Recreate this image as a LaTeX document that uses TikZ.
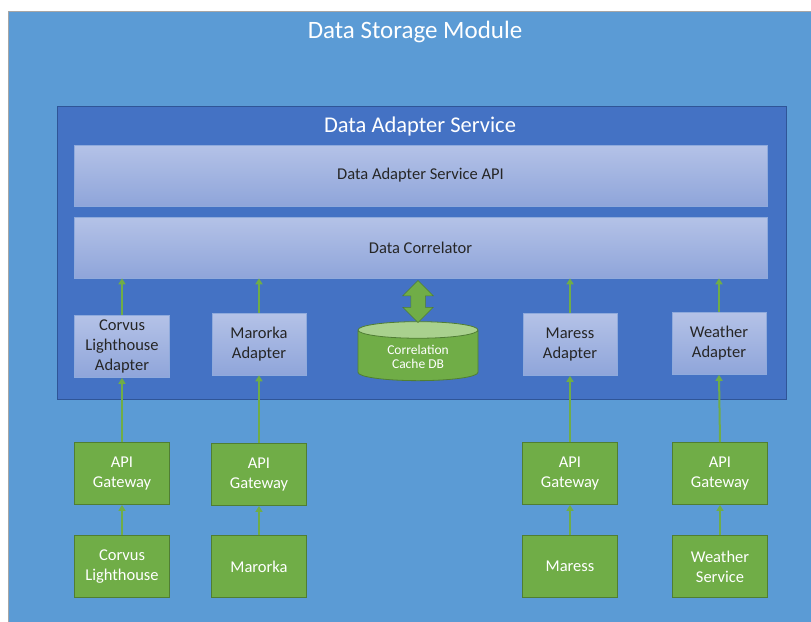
\documentclass[tikz,border=0pt]{standalone}
\usepackage{fontspec}
\setmainfont{Carlito}
\usetikzlibrary{shapes.geometric,shapes.arrows,arrows.meta}
\definecolor{outerblue}{HTML}{5B9BD5}
\definecolor{innerblue}{HTML}{4472C4}
\definecolor{innerline}{HTML}{2F5597}
\definecolor{bartop}{HTML}{B4C2E7}
\definecolor{barbot}{HTML}{8FA5DA}
\definecolor{barline}{HTML}{8FAADC}
\definecolor{grn}{HTML}{70AD47}
\definecolor{grnline}{HTML}{507E32}
\definecolor{grnlight}{HTML}{A9D18E}
\definecolor{darktext}{HTML}{262626}
\tikzset{
  x=1pt, y=-1pt,
  lavbox/.style={rectangle, top color=bartop, bottom color=barbot, draw=barline, line width=0.6pt,
    text=darktext, align=center, inner sep=0pt},
  bar/.style={lavbox, minimum width=693, minimum height=61, font=\fontsize{16.5}{20}\selectfont},
  adapter/.style={lavbox, minimum width=94, minimum height=62, font=\fontsize{16.5}{20}\selectfont},
  greenbox/.style={rectangle, fill=grn, draw=grnline, line width=0.8pt, text=white, align=center,
    inner sep=0pt, minimum width=95, minimum height=62, font=\fontsize{16.5}{20}\selectfont},
  flow/.style={draw=grn, line width=2pt, -{Triangle[width=7pt,length=6pt]}},
}
\begin{document}
\begin{tikzpicture}
\useasboundingbox (0,0) rectangle (811,621);
\begin{scope}
\clip (0,0) rectangle (811,621);
\path[fill=outerblue, draw=gray!70, line width=0.8pt] (8,11) rectangle (830,640);
\end{scope}
\node[text=white, font=\fontsize{25}{30}\selectfont] (title) at (415,32) {Data Storage Module};

\path[fill=innerblue, draw=innerline, line width=0.8pt] (57,106) rectangle (786,399);
\node[text=white, font=\fontsize{22.5}{27}\selectfont] (ititle) at (420,127) {Data Adapter Service};

\node[bar] (api) at (420.5,175.5) {Data Adapter Service API};
\node[bar] (corr) at (420.5,247.5) {Data Correlator};

\node[adapter, minimum width=95] (ad1) at (122,346.5) {Corvus\\Lighthouse\\Adapter};
\node[adapter] (ad2) at (259,344) {Marorka\\Adapter};
\node[adapter] (ad3) at (570,344.5) {Maress\\Adapter};
\node[adapter] (ad4) at (719,343.5) {Weather\\Adapter};

\node[cylinder, shape border rotate=90, aspect=0.27, minimum width=120, minimum height=59,
  cylinder uses custom fill, cylinder body fill=grn, cylinder end fill=grnlight,
  draw=grnline, line width=0.8pt, text=white, align=center, inner sep=0pt,
  font=\fontsize{13.5}{14}\selectfont] (db) at (418,355.5) {\\[-2pt]Correlation\\Cache DB};

\node[double arrow, shape border rotate=90, fill=grn, draw=grnline, line width=0.5pt,
  minimum height=42, inner sep=7pt, double arrow head extend=8pt] (dbl) at (418,301.5) {};

\node[greenbox] (gw1) at (122,473.5) {API\\Gateway};
\node[greenbox] (gw2) at (259,474.5) {API\\Gateway};
\node[greenbox] (gw3) at (570,473.5) {API\\Gateway};
\node[greenbox] (gw4) at (720,473.5) {API\\Gateway};

\node[greenbox] (s1) at (122,566.5) {Corvus\\Lighthouse};
\node[greenbox] (s2) at (259,566.5) {Marorka};
\node[greenbox] (s3) at (570,566.5) {Maress};
\node[greenbox] (s4) at (720,566.5) {Weather\\Service};

\foreach \s/\g/\a in {s1/gw1/ad1, s2/gw2/ad2, s3/gw3/ad3, s4/gw4/ad4}{
  \draw[flow] (\s.north) -- (\g.south);
  \draw[flow] (\g.north) -- (\a.south);
  \draw[flow] (\a.north) -- (\a.north |- corr.south);
}
\end{tikzpicture}
\end{document}
